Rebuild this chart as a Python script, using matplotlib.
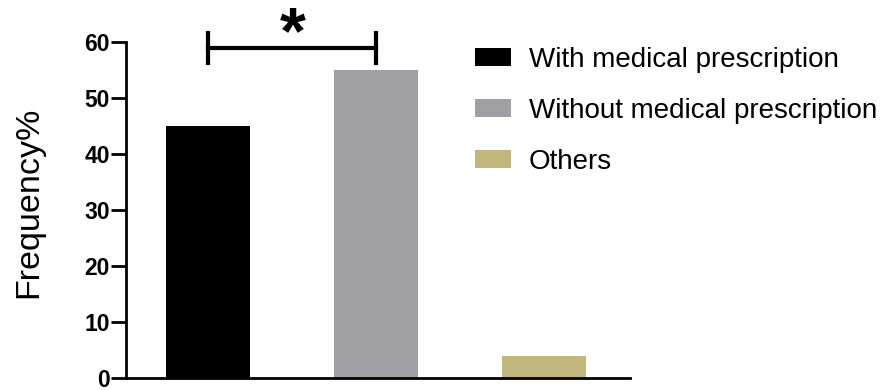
import matplotlib
matplotlib.use('Agg')
import matplotlib.pyplot as plt

# data
categories = ['With medical prescription', 'Without medical prescription', 'Others']
values = [45, 55, 4]
colors = ['#000000', '#A0A0A4', '#C2B87E']

plt.rcParams['font.family'] = 'Liberation Sans'

fig = plt.figure(figsize=(8.91, 3.90), dpi=100)
ax = fig.add_axes([0.1414, 0.0308, 0.7070 - 0.1414, 0.892 - 0.0308])

x = list(range(len(values)))
bars = ax.bar(x, values, width=0.5, color=colors, label=categories)

ax.set_xlim(-0.49, 2.51)
ax.set_ylim(0, 60)
ax.set_yticks([0, 10, 20, 30, 40, 50, 60])
ax.set_xticks([])
for s in ['top', 'right']:
  ax.spines[s].set_visible(False)
for s in ['left', 'bottom']:
  ax.spines[s].set_linewidth(2)
ax.tick_params(axis='y', length=10.5, width=2, labelsize=16.5, pad=1)
for lab in ax.get_yticklabels():
  lab.set_fontweight('bold')
ax.set_ylabel('Frequency%', fontsize=24.5)
ax.yaxis.set_label_coords(-0.163, 0.524)

# significance bracket between first two bars
yb = 58.9
ax.plot([x[0], x[1]], [yb, yb], color='black', lw=3, clip_on=False)
ax.plot([x[0], x[0]], [yb - 2.7, yb + 2.7], color='black', lw=3, clip_on=False)
ax.plot([x[1], x[1]], [yb - 2.7, yb + 2.7], color='black', lw=3, clip_on=False)
ax.text((x[0] + x[1]) / 2, 61.0, '*', ha='center', va='center', fontsize=48,
        fontweight='bold', clip_on=False)

fig.legend(handles=bars, labels=categories, loc='upper left',
           bbox_to_anchor=(0.533, 0.88), frameon=False, fontsize=20,
           handlelength=1.3, handleheight=0.61, handletextpad=0.65,
           labelspacing=0.9, borderpad=0, borderaxespad=0)

fig.savefig('out.png', dpi=100)
